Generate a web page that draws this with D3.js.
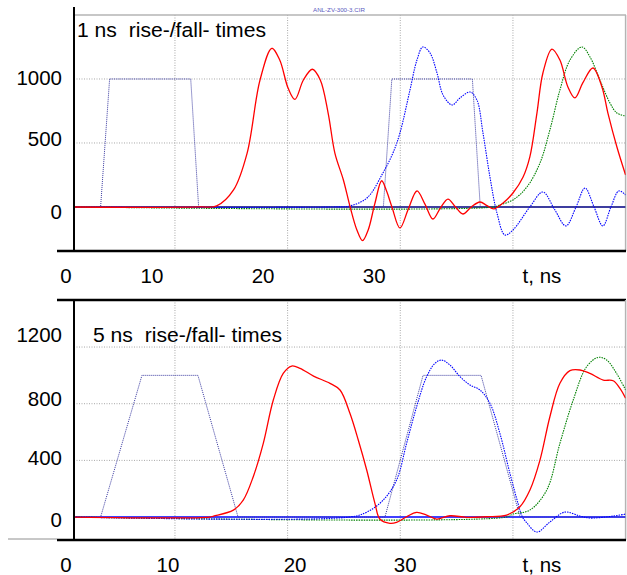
<!DOCTYPE html>
<html>
<head>
<meta charset="utf-8">
<script src="https://cdn.jsdelivr.net/npm/d3@7"></script>
<style>
  html, body { margin: 0; padding: 0; background: #fff; }
  svg { display: block; }
  text { font-family: "Liberation Sans", Arial, sans-serif; }
  .ptitle { white-space: pre; }
</style>
</head>
<body>
<svg id="chart" width="627" height="575"></svg>
<script>
// ---------------- DATA ----------------
const fileTitle = "ANL-ZV-300-3.CIR";
const panelTitles = ["1 ns  rise-/fall- times", "5 ns  rise-/fall- times"];
const xTickLabels = ["0", "10", "20", "30", "t, ns"];
const xTickValues = [0, 10, 20, 30, 40];
const xGridValues = [10, 20, 30, 40];
const yTicksTop = [0, 500, 1000];
const yTicksBottom = [0, 400, 800, 1200];

// top panel (1 ns)
const pulseTop = [[1,0],[3.4,0],[4.2,1000],[11.4,1000],[12.1,0],[28.5,0],[29.25,1000],[36.4,1000],[37.1,0],[50,0]];
const redTop = [[1,0],[12.2,0],[13.7,8],[15.2,133],[16.4,419],[17.55,992],[18.6,1240],[19.3,1148],[20.05,927],[20.65,841],
  [21.4,992],[22.2,1076],[22.9,992],[23.6,732],[24.2,419],[24.95,211],[25.55,0],[26.15,-180],[26.65,-263],[27.15,-180],
  [27.75,29],[28.35,205],[28.8,120],[29.26,0],[29.97,-164],[30.7,-20],[31.48,125],[32.2,20],[32.9,-94],[33.55,-10],[34.23,62],
  [34.9,0],[35.56,-55],[36.3,0],[37.07,39],[37.7,10],[38.3,-15],[39.1,30],[40.0,109],[40.9,234],[41.5,391],[42.13,734],
  [42.66,1047],[43.46,1234],[44.17,1148],[44.88,938],[45.5,852],[46.2,969],[47.1,1086],[47.9,938],[48.43,734],[49.23,469],[50.0,250]];
const blueTop = [[1,0],[24.0,0],[25.5,8],[27.04,70],[28.46,266],[29.35,422],[29.97,578],[30.86,914],[31.48,1148],[32.0,1250],
  [32.64,1203],[33.26,1047],[33.8,875],[34.6,797],[35.3,852],[36.2,898],[36.8,836],[37.34,578],[37.96,234],[38.58,-47],
  [39.29,-219],[40.0,-180],[41.5,0],[42.66,117],[43.7,-20],[44.7,-148],[45.6,0],[46.4,148],[47.2,0],[47.98,-148],[48.7,0],
  [49.4,125],[50.0,94]];
const greenTop = [[1,0],[38.3,0],[38.84,16],[40.0,55],[41.24,156],[42.4,344],[43.28,602],[44.17,914],[45.06,1148],[46.12,1250],
  [46.84,1172],[47.72,992],[48.61,813],[49.23,734],[50.0,711]];
const zeroTop = [[1,0],[50,0]];

// bottom panel (5 ns)
const pulseBottom = [[1,0],[3.4,0],[7.07,1000],[12.04,1000],[15.6,0],[28.64,0],[32.02,1000],[37.17,1000],[40.63,0],[50,0]];
const redBottom = [[1,0],[13.1,0],[13.43,7],[15.18,49],[16.06,120],[16.95,285],[17.84,520],[18.73,826],[19.61,1014],[20.36,1066],
  [21.1,1050],[22.3,995],[23.76,944],[24.65,897],[25.53,732],[26.27,544],[27.02,332],[27.75,97],[28.2,-16],[29.08,-44],
  [29.67,-37],[30.56,2],[31.45,33],[32.34,14],[33.23,-14],[34.41,9],[35.89,-2],[37.66,2],[39.44,14],[40.62,73],[41.51,191],
  [42.4,402],[43.28,708],[44.17,944],[45.06,1033],[45.95,1038],[46.83,1014],[48.01,967],[48.9,962],[49.5,908],[50.0,838]];
const blueBottom = [[1,0],[25.5,0],[27.04,35],[28.49,120],[29.67,261],[30.56,520],[31.45,779],[32.34,991],[33.08,1085],[33.67,1108],
  [34.41,1073],[35.3,991],[36.19,932],[37.07,897],[37.96,803],[38.84,591],[39.73,309],[40.44,99],[40.8,7],[41.24,-42],
  [42.13,-106],[43.28,-35],[44.61,35],[45.95,7],[46.83,-7],[48.9,7],[50.0,21]];
const greenBottom = [[1,0],[39.44,0],[40.0,21],[41.5,49],[43.0,191],[44.17,520],[45.35,826],[46.54,1061],[47.57,1127],
  [48.32,1108],[49.2,1014],[50.0,897]];
const zeroBottom = [[1,0],[50,0]];

// ---------------- LAYOUT ----------------
const svg = d3.select("#chart");
const plotLeft = 74, plotRight = 625.6;
const x = d3.scaleLinear().domain([0, 50]).range([62.3, 625.6]);

const panels = [
  { top: 15, bottom: 251, y: d3.scaleLinear().domain([-344, 1500]).range([251, 15]),
    yTicks: yTicksTop, yNudge: [5, -4.5, -1], xNudge: [3.7, -23, -24.5, -26, 29], xLabelBase: 283,
    title: panelTitles[0], titleX: 77, titleY: 37,
    pulse: pulseTop, red: redTop, blue: blueTop, green: greenTop, zero: zeroTop, zeroColor: "#000080",
    axisTopColor: "#b4b4b4", axisTopW: 1.5, axisTopX0: 74, leftTop: 7 },
  { top: 300, bottom: 540, y: d3.scaleLinear().domain([-162, 1532]).range([540, 300]),
    yTicks: yTicksBottom, yNudge: [3, -2.5, -5, -12], xNudge: [3.7, -7, 7.5, 5, 29], xLabelBase: 572,
    title: panelTitles[1], titleX: 93, titleY: 342,
    pulse: pulseBottom, red: redBottom, blue: blueBottom, green: greenBottom, zero: zeroBottom, zeroColor: "#0000ff",
    axisTopColor: "#000", axisTopW: 2.5, axisTopX0: 57, leftTop: 300 }
];

// file title
svg.append("text").attr("x", 313).attr("y", 12).attr("font-size", 6.2).attr("fill", "#5a5ac0").text(fileTitle);

panels.forEach((p, i) => {
  const g = svg.append("g");
  const clipId = "clip" + i;
  svg.append("defs").append("clipPath").attr("id", clipId)
    .append("rect").attr("x", plotLeft).attr("y", p.top).attr("width", plotRight - plotLeft).attr("height", p.bottom - p.top);

  // grid
  g.selectAll(".vg").data(xGridValues).enter().append("line")
    .attr("x1", d => x(d)).attr("x2", d => x(d)).attr("y1", p.top).attr("y2", p.bottom)
    .attr("stroke", "#a8a8a8").attr("stroke-width", 1).attr("stroke-dasharray", "1,1.5");
  g.selectAll(".hg").data(p.yTicks.filter(v => v !== 0)).enter().append("line")
    .attr("x1", plotLeft).attr("x2", plotRight).attr("y1", d => p.y(d)).attr("y2", d => p.y(d))
    .attr("stroke", "#a8a8a8").attr("stroke-width", 1).attr("stroke-dasharray", "1,1.5");

  // frame
  g.append("line").attr("x1", p.axisTopX0).attr("x2", 626).attr("y1", p.top).attr("y2", p.top)
    .attr("stroke", p.axisTopColor).attr("stroke-width", p.axisTopW);
  g.append("line").attr("x1", plotRight).attr("x2", plotRight).attr("y1", p.top).attr("y2", p.bottom)
    .attr("stroke", "#b4b4b4").attr("stroke-width", 1.5);

  const line = d3.line().x(d => x(d[0])).y(d => p.y(d[1])).curve(d3.curveCatmullRom.alpha(0.5));
  const poly = d3.line().x(d => x(d[0])).y(d => p.y(d[1]));
  const cg = g.append("g").attr("clip-path", `url(#${clipId})`);

  cg.append("path").datum(p.zero).attr("d", poly).attr("fill", "none")
    .attr("stroke", p.zeroColor).attr("stroke-width", 1.6);
  cg.append("path").datum(p.pulse).attr("d", poly).attr("fill", "none")
    .attr("stroke", "#3a3aa0").attr("stroke-width", 1).attr("stroke-dasharray", "1,1");
  cg.append("path").datum(p.green).attr("d", line).attr("fill", "none")
    .attr("stroke", "#008000").attr("stroke-width", 1.1).attr("stroke-dasharray", "1.5,1");
  cg.append("path").datum(p.blue).attr("d", line).attr("fill", "none")
    .attr("stroke", "#0000ff").attr("stroke-width", 1.1).attr("stroke-dasharray", "1.5,1");
  cg.append("path").datum(p.red).attr("d", line).attr("fill", "none")
    .attr("stroke", "#ff0000").attr("stroke-width", 1.3);

  // axes
  g.append("line").attr("x1", plotLeft).attr("x2", plotLeft).attr("y1", p.leftTop).attr("y2", p.bottom + 1)
    .attr("stroke", "#000").attr("stroke-width", 2);
  g.append("line").attr("x1", 57).attr("x2", 626).attr("y1", p.bottom).attr("y2", p.bottom)
    .attr("stroke", "#000").attr("stroke-width", 2.5);

  // y labels
  g.selectAll(".yl").data(p.yTicks).enter().append("text")
    .attr("x", 62).attr("y", (d, k) => p.y(d) + p.yNudge[k]).attr("dy", "0.36em")
    .attr("text-anchor", "end").attr("font-size", 20.5).attr("fill", "#000").text(d => d);
  // x labels
  g.selectAll(".xl").data(xTickValues).enter().append("text")
    .attr("x", (d, k) => x(d) + p.xNudge[k]).attr("y", p.xLabelBase)
    .attr("text-anchor", "middle").attr("font-size", 20.5).attr("fill", "#000").text((d, k) => xTickLabels[k]);

  // panel title
  g.append("text").attr("class", "ptitle").attr("x", p.titleX).attr("y", p.titleY).attr("font-size", 20.5)
    .attr("fill", "#000").attr("textLength", 189).attr("lengthAdjust", "spacingAndGlyphs").text(p.title);
});

// small grey stub at lower left
svg.append("line").attr("x1", 8).attr("x2", 57).attr("y1", 539).attr("y2", 539)
  .attr("stroke", "#909090").attr("stroke-width", 1);
</script>
</body>
</html>
